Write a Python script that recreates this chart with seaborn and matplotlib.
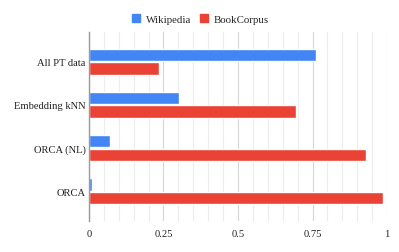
import matplotlib
matplotlib.use("Agg")
import matplotlib.pyplot as plt
import seaborn as sns
import pandas as pd
import numpy as np
from matplotlib.ticker import MultipleLocator

categories = ["All PT data", "Embedding kNN", "ORCA (NL)", "ORCA"]
series = ["Wikipedia", "BookCorpus"]
wikipedia = [0.763, 0.302, 0.069, 0.010]
bookcorpus = [0.235, 0.696, 0.928, 0.988]
xticks = [0, 0.25, 0.5, 0.75, 1]
xtick_labels = ["0", "0.25", "0.5", "0.75", "1"]
colors = ["#4285F4", "#EA4335"]

df = pd.DataFrame({
    "category": categories * 2,
    "source": [series[0]] * 4 + [series[1]] * 4,
    "value": wikipedia + bookcorpus,
})

sns.set_theme(style="white")
plt.rcParams["font.family"] = ["Liberation Serif", "DejaVu Serif"]

fig = plt.figure(figsize=(3.99, 2.53), dpi=100)
ax = fig.add_axes([0.223, 0.123, 0.747, 0.747])

sns.barplot(data=df, y="category", x="value", hue="source", orient="h",
            palette=colors, width=0.63, gap=0.08, ax=ax, legend=False,
            saturation=1, order=categories, hue_order=series)

ax.set_xlim(0, 1)
ax.set_ylim(3.69, -0.69)
ax.set_xticks(xticks)
ax.set_xticklabels(xtick_labels)
ax.xaxis.set_minor_locator(MultipleLocator(0.05))
ax.grid(axis="x", which="minor", color="#ececec", linewidth=0.8)
ax.grid(axis="x", which="major", color="#d5d5d5", linewidth=0.8)
ax.set_axisbelow(True)
for s in ["top", "right", "bottom"]:
    ax.spines[s].set_visible(False)
ax.spines["left"].set_color("#999999")
ax.spines["left"].set_linewidth(1.0)
ax.tick_params(axis="both", length=0, labelsize=7.6, colors="#222222")
ax.tick_params(axis="y", pad=2.5)
ax.tick_params(axis="x", pad=5.5)
ax.set_xlabel("")
ax.set_ylabel("")

handles = [plt.Rectangle((0, 0), 1, 1, color=c) for c in colors]
fig.legend(handles, series, loc="center", bbox_to_anchor=(0.502, 0.922), ncol=2,
           frameon=False, fontsize=7.8, handlelength=0.75, handleheight=0.75,
           handletextpad=0.5, columnspacing=0.8)

fig.savefig("out.png", dpi=100)
